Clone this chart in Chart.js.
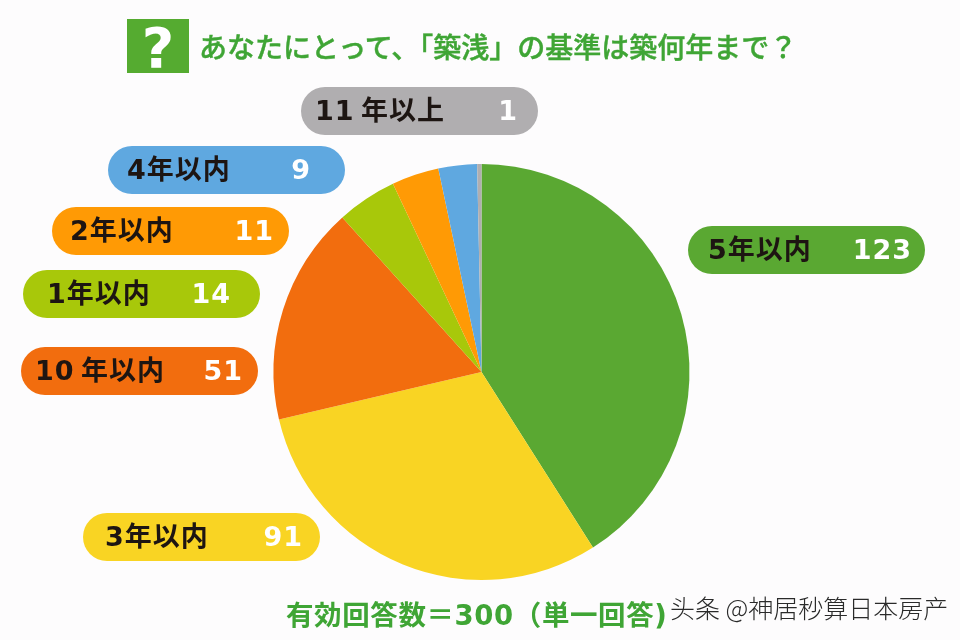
<!DOCTYPE html>
<html lang="ja">
<head>
<meta charset="utf-8">
<title>築浅の基準</title>
<script src="https://cdn.jsdelivr.net/npm/chart.js@4"></script>
<style>
html, body { margin: 0; padding: 0; background: #fdfcfd; }
#stage { position: relative; width: 960px; height: 640px; overflow: hidden; font-family: "DejaVu Sans", "Noto Sans CJK JP", sans-serif; }
#stage canvas { position: absolute; left: 0; top: 0; }
.qbox { position: absolute; left: 127px; top: 19px; width: 62px; height: 54px; background: #55ab30; color: #fff; font: bold 56px/58px "DejaVu Sans", sans-serif; text-align: center; }
.title { position: absolute; left: 199px; top: 27px; font-family: "Noto Sans CJK JP", sans-serif; font-size: 28px; line-height: 38px; font-weight: 500; color: #3fa535; -webkit-text-stroke: 0.4px #3fa535; white-space: nowrap; }
.pill { position: absolute; width: 237px; height: 48px; border-radius: 24px; }
.pill .name { position: absolute; top: 0; line-height: 48px; font-size: 27px; letter-spacing: 1px; font-weight: 700; color: #1d1512; white-space: nowrap; }
.pill .count { position: absolute; top: 0; font: bold 27px/48px "DejaVu Sans", sans-serif; letter-spacing: 1px; color: #fff; white-space: nowrap; }
.footer { position: absolute; left: 286px; top: 598px; font-size: 27.5px; line-height: 34px; letter-spacing: 0.6px; font-weight: 700; color: #3fa535; white-space: nowrap; }
.mark { position: absolute; left: 670px; top: 590px; font-family: "Noto Sans CJK SC", sans-serif; font-size: 25px; line-height: 34px; font-weight: 300; color: #2a2a2a; white-space: nowrap; text-shadow: 0 0 2px #fff; }
</style>
</head>
<body>
<div id="stage">
    <canvas id="pieChart" width="960" height="640"></canvas>
    <div class="qbox">?</div>
    <div class="title">あなたにとって、「築浅」の基準は築何年まで？</div>
    <div class="footer">有効回答数＝300（単一回答)</div>
    <div class="mark">头条 @神居秒算日本房产</div>
</div>
<script>
// two-digit labels use a thin space before 年
const categories = ['5年以内', '3年以内', '10\u2009年以内', '1年以内', '2年以内', '4年以内', '11\u2009年以上'];
const answers = [123, 91, 51, 14, 11, 9, 1];
const colors = ['#5aa832', '#f9d423', '#f26d0e', '#a8c80a', '#ff9a05', '#5fa8e0', '#b0aeb0'];

// pill placement, same order as categories: left, top, name x, count right edge
const pillLeft = [688, 83, 21, 23, 52, 108, 301];
const pillTop = [226, 513, 347, 270, 207, 146, 87];
const nameX = [20, 22, 14, 24, 18, 19, 14];
const countRight = [13, 17, 15, 29, 15, 34, 20];

const stage = document.getElementById('stage');
categories.forEach(function(name, i) {
    const pill = document.createElement('div');
    pill.className = 'pill';
    pill.style.left = pillLeft[i] + 'px';
    pill.style.top = pillTop[i] + 'px';
    pill.style.background = colors[i];

    const label = document.createElement('span');
    label.className = 'name';
    label.style.left = nameX[i] + 'px';
    label.textContent = name;
    pill.appendChild(label);

    const count = document.createElement('span');
    count.className = 'count';
    count.style.right = countRight[i] + 'px';
    count.textContent = answers[i];
    pill.appendChild(count);

    stage.appendChild(pill);
});

const pieCtx = document.getElementById('pieChart').getContext('2d');
new Chart(pieCtx, {
    type: 'pie',
    data: {
        labels: categories,
        datasets: [{
            data: answers,
            backgroundColor: colors,
            borderWidth: 0
        }]
    },
    options: {
        responsive: false,
        animation: false,
        layout: {
            padding: { left: 273, right: 270, top: 164, bottom: 60 }
        },
        plugins: {
            legend: { display: false },
            tooltip: { enabled: false }
        }
    }
});
</script>
</body>
</html>
